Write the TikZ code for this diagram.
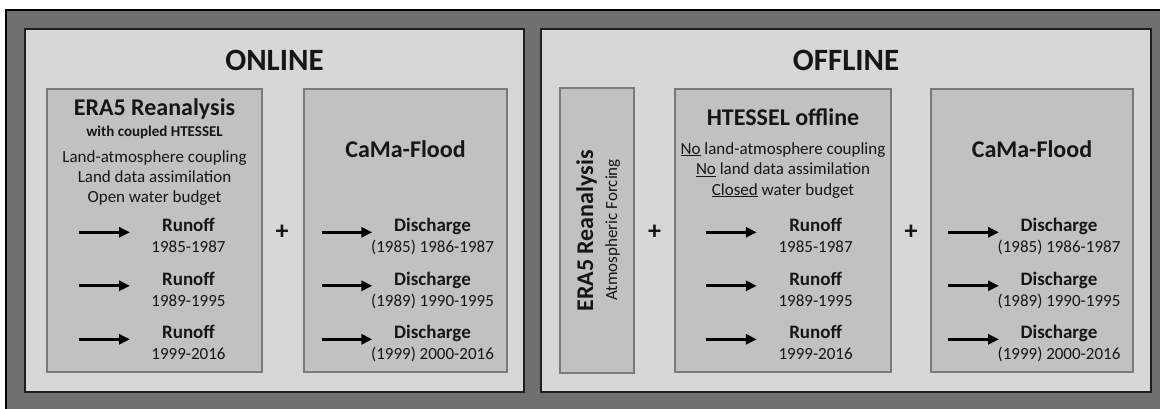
\documentclass[tikz,border=0pt]{standalone}
\usepackage{fontspec}
\setmainfont{Carlito}
\usetikzlibrary{arrows.meta}
\definecolor{framegray}{RGB}{112,112,112}
\definecolor{panelgray}{RGB}{215,215,215}
\definecolor{boxgray}{RGB}{193,193,193}
\definecolor{boxedge}{RGB}{122,122,122}
\definecolor{inkgray}{RGB}{22,22,22}
\newcommand{\fsz}[1]{\fontsize{#1}{#1}\selectfont}

\begin{document}
\begin{tikzpicture}[x=1pt,y=-1pt,
    panel/.style={draw=black!88,line width=2pt,fill=panelgray,inner sep=0pt},
    modelbox/.style={draw=boxedge,line width=1.2pt,fill=boxgray,inner sep=0pt},
    txt/.style={text=inkgray,inner sep=0pt,anchor=base},
    paneltitle/.style={txt,font=\bfseries\fsz{31}},
    boxtitle/.style={txt,font=\bfseries\fsz{24}},
    subtitle/.style={txt,font=\bfseries\fsz{15}},
    bodyline/.style={txt,font=\fsz{17}},
    rowhead/.style={txt,font=\bfseries\fsz{19}},
    plussign/.style={text=inkgray,inner sep=0pt,font=\bfseries\fsz{26}},
    flow/.style={line width=3.3pt,-{Triangle[length=11pt,width=10pt]},draw=black}]
  % page and the dark outer frame (it runs past the right and lower edge)
  \path[use as bounding box,fill=white] (0,0) rectangle (1160,408);
  \draw[line width=2pt,fill=framegray] (6,10) rectangle (1185,425);

  % the two panels
  \node[panel,minimum width=499pt,minimum height=363pt] (online) at (274.5,210.5) {};
  \node[panel,minimum width=610pt,minimum height=363pt] (offline) at (846,210.5) {};
  \node[paneltitle] (online-title) at (274.5,70) {ONLINE};
  \node[paneltitle] (offline-title) at (846,70) {OFFLINE};

  % model boxes
  \node[modelbox,minimum width=215pt,minimum height=283pt] (era-on) at (154.5,230.5) {};
  \node[modelbox,minimum width=203pt,minimum height=283pt] (cama-on) at (405.5,230.5) {};
  \node[modelbox,minimum width=74pt,minimum height=285pt] (era-off) at (597,230.5) {};
  \node[modelbox,minimum width=216pt,minimum height=283pt] (htessel) at (783,230.5) {};
  \node[modelbox,minimum width=202pt,minimum height=283pt] (cama-off) at (1032,230.5) {};

  % ONLINE: ERA5 with coupled HTESSEL
  \node[boxtitle] (era-on-head) at (154.5,115) {ERA5 Reanalysis};
  \node[subtitle] (era-on-sub) at (154.5,136.7) {with coupled HTESSEL};
  \node[bodyline] (era-on-l1) at (154.5,162) {Land-atmosphere coupling};
  \node[bodyline] (era-on-l2) at (154.5,182) {Land data assimilation};
  \node[bodyline] (era-on-l3) at (154.5,202) {Open water budget};
  \node[boxtitle] (cama-on-head) at (405.5,157) {CaMa-Flood};

  % OFFLINE: forcing, HTESSEL offline, CaMa-Flood
  \node[boxtitle,rotate=90] (era-off-head) at (593,231) {ERA5 Reanalysis};
  \node[bodyline,rotate=90] (era-off-sub) at (617,230) {Atmospheric Forcing};
  \node[boxtitle] (htessel-head) at (783,125) {HTESSEL offline};
  \node[bodyline] (htessel-l1) at (783,154) {\underline{No} land-atmosphere coupling};
  \node[bodyline] (htessel-l2) at (783,174.5) {\underline{No} land data assimilation};
  \node[bodyline] (htessel-l3) at (783,195) {\underline{Closed} water budget};
  \node[boxtitle] (cama-off-head) at (1032,157) {CaMa-Flood};

  % plus signs between the boxes
  \node[plussign] (plus-on) at (282,232.5) {+};
  \node[plussign] (plus-off1) at (654.5,232.5) {+};
  \node[plussign] (plus-off2) at (911,232.5) {+};

  % runoff rows (offset 53.5 per row)
  \foreach \pre/\xs/\xe/\xt in {on/79/130/188.5, off/705.7/756.8/815.6}
    \foreach \i/\yrs/\dy in {1/1985-1987/0, 2/1989-1995/53.5, 3/1999-2016/107} {
      \node[rowhead] (\pre-run\i) at (\xt,{231.5+\dy}) {Runoff};
      \node[bodyline] (\pre-runyr\i) at (\xt,{252.5+\dy}) {\yrs};
      \coordinate (\pre-rs\i) at (\xs,{232.3+\dy});
      \coordinate (\pre-re\i) at (\xe,{232.3+\dy});
      \draw[flow] (\pre-rs\i) -- (\pre-re\i);
    }

  % discharge rows
  \foreach \pre/\xs/\xe/\xt in {on/321.5/372.3/432.5, off/948/999/1059}
    \foreach \i/\spin/\yrs/\dy in {1/1985/1986-1987/0, 2/1989/1990-1995/53.5, 3/1999/2000-2016/107} {
      \node[rowhead] (\pre-dis\i) at (\xt,{231.5+\dy}) {Discharge};
      \node[bodyline] (\pre-disyr\i) at (\xt,{252.5+\dy}) {(\spin) \yrs};
      \coordinate (\pre-ds\i) at (\xs,{232.3+\dy});
      \coordinate (\pre-de\i) at (\xe,{232.3+\dy});
      \draw[flow] (\pre-ds\i) -- (\pre-de\i);
    }
\end{tikzpicture}
\end{document}
